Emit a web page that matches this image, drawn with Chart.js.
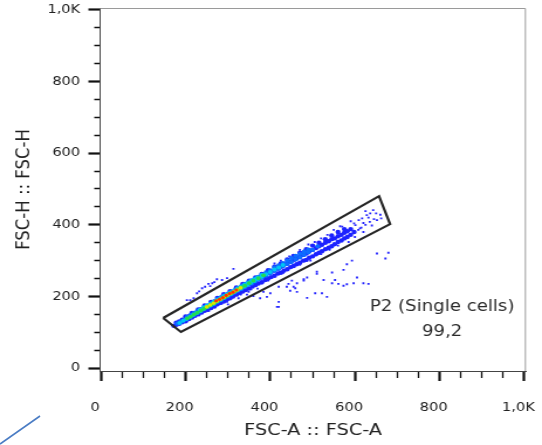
<!DOCTYPE html>
<html>
<head>
<meta charset="utf-8">
<script src="https://cdn.jsdelivr.net/npm/chart.js@4.4.1/dist/chart.umd.min.js"></script>
<style>
  html, body { margin: 0; padding: 0; background: #fff; }
  body { width: 542px; height: 445px; position: relative; overflow: hidden; }
  /* the reference picture is stretched sideways, so the chart is too */
  #wrap { position: absolute; left: 0; top: 0; width: 463px; height: 445px;
          transform: scaleX(1.1706); transform-origin: 0 0; }
  #mark { position: absolute; left: 0; top: 0; }
</style>
</head>
<body>
<div id="wrap"><canvas id="fscChart"></canvas></div>
<svg id="mark" width="542" height="445"><line x1="0" y1="444" x2="40" y2="416" stroke="#4a7cc4" stroke-width="1.6"/></svg>
<script>
// FSC-A vs FSC-H singlet gate, pseudocolor dots

const tickValues = [0, 50, 100, 150, 200, 250, 300, 350, 400, 450, 500, 550, 600, 650, 700, 750, 800, 850, 900, 950, 1000];
const majorTicks = [0, 200, 400, 600, 800, 1000];
const tickLabels = ["0", "200", "400", "600", "800", "1,0K"];

// gate polygon (FSC-A, FSC-H)
const gateX = [147, 189, 683, 657, 147];
const gateY = [140, 101, 402, 480, 140];
const gateText = ["P2 (Single cells)", "99,2"];
const gateTextX = [806, 806];
const gateTextY = [171, 101];

// sparse events
const scatterPts = [
  [581,290],[593,300],[573,274],[546,267],[510,263],[487,253],[479,244],[526,246],[553,246],[581,234],
  [620,237],[605,253],[451,244],[443,235],[420,227],[455,227],[487,196],[506,209],[522,209],[463,213],
  [420,171],[400,209],[384,213],[376,195],[360,201],[431,266],[652,320],[672,306],[679,322],[534,199],
  [546,237],[561,235],[573,230],[597,237],[632,235],[510,269],[479,248],[463,237],[447,216],[459,223],
  [439,227],[313,277],[274,248],[254,235],[239,223],[219,195],[211,190],[298,251],[286,246],[203,190],
  [227,209],[246,227],[263,237],[232,214],[258,229],[268,240],[239,162],[266,171],[298,185],[325,195],
  [349,213],[392,199],[416,171],[420,185],[300,178],[345,205],[370,222],[230,150],[255,160],[643,441],
  [636,432],[628,427],[617,418],[652,413],[609,413],[601,399],[590,410],[620,405],[660,428],[570,395],
  [585,370],[612,390],[410,292],[425,300],[445,312],[470,330],[490,345],[505,352],[520,362],[535,372],
  [550,386],[565,396],[470,288],[495,300],[520,318],[540,330],[560,342],[585,352],[600,366],[620,380],
  [640,398],[662,418],[625,438],[380,236],[395,244],[355,220],[330,205],[615,392],[625,400],[635,408],
  [645,416],[608,386],[598,404],[632,420],[650,432]
];
// dense band, by density level
const bluePts = [
  [172,118],[178,121],[178,127],[185,124],[185,130],[192,128],[192,135],[200,131],[200,138],[200,144],
  [208,137],[208,145],[215,141],[215,148],[215,154],[222,146],[222,154],[230,150],[230,158],[230,164],
  [238,155],[238,164],[245,160],[245,168],[245,175],[252,163],[252,173],[260,168],[260,178],[260,185],
  [268,172],[268,184],[275,178],[275,189],[275,196],[283,182],[283,195],[290,186],[290,198],[290,206],
  [298,192],[298,204],[305,195],[305,208],[305,215],[312,200],[312,212],[320,205],[320,218],[320,225],
  [328,210],[328,222],[335,214],[335,228],[335,235],[342,218],[342,232],[350,222],[350,236],[350,244],
  [358,228],[358,240],[365,232],[365,246],[365,253],[372,236],[372,250],[380,240],[380,255],[380,263],
  [388,246],[388,258],[395,250],[395,265],[395,273],[402,254],[402,268],[410,258],[410,274],[410,283],
  [418,264],[418,278],[425,266],[425,283],[425,292],[432,272],[432,288],[440,276],[440,294],[440,303],
  [448,282],[448,297],[455,285],[455,302],[455,313],[462,290],[462,306],[470,294],[470,312],[470,322],
  [478,300],[478,316],[485,302],[485,320],[485,332],[492,308],[492,326],[500,312],[500,330],[500,342],
  [508,318],[508,335],[515,322],[515,340],[515,350],[522,326],[522,344],[530,332],[530,350],[530,360],
  [538,336],[538,354],[545,340],[545,360],[545,370],[552,346],[552,362],[560,352],[560,368],[560,380],
  [568,356],[568,372],[575,362],[575,378],[575,388],[582,366],[582,382],[590,372],[590,388],[598,380]
];
const azurePts = [
  [180,124],[188,129],[196,134],[204,139],[204,143],[212,144],[212,149],[220,150],[220,154],[228,154],
  [228,160],[236,159],[236,165],[244,165],[244,170],[252,170],[252,175],[260,175],[260,181],[268,180],
  [268,187],[276,185],[276,193],[284,190],[284,198],[292,196],[292,203],[300,200],[300,208],[308,206],
  [308,213],[316,211],[316,218],[324,216],[324,223],[332,221],[332,229],[340,226],[340,235],[348,232],
  [348,239],[356,236],[356,245],[364,242],[364,250],[372,247],[372,255],[380,252],[380,261],[390,258],
  [390,267],[400,264],[400,273],[410,271],[410,281],[420,277],[420,287],[430,284],[430,293],[440,290],
  [440,300],[450,296],[450,307],[460,303],[460,313],[470,309],[470,319],[480,316],[480,325],[490,323],
  [490,331],[500,330],[512,340]
];
const cyanPts = [
  [186,126],[194,132],[202,137],[210,143],[218,148],[226,154],[234,159],[234,163],[242,165],[242,169],
  [250,170],[250,174],[258,175],[258,179],[266,180],[266,185],[274,186],[274,190],[282,191],[282,195],
  [290,196],[290,201],[298,202],[298,206],[306,207],[306,211],[314,212],[314,216],[322,217],[322,222],
  [330,222],[330,227],[338,228],[338,232],[346,233],[346,237],[354,238],[354,243],[362,243],[362,248],
  [370,249],[370,253],[380,255],[380,260],[390,262],[400,268],[410,275],[420,281],[430,288]
];
const greenPts = [
  [204,139],[212,144],[220,150],[228,155],[236,161],[244,166],[252,171],[260,177],[268,182],[276,188],
  [284,193],[292,198],[300,204],[308,209],[316,214],[324,220],[332,225],[340,230],[350,237],[360,244],
  [372,251],[384,259]
];
const yellowPts = [
  [250,171],[258,176],[266,181],[274,187],[282,192],[290,197],[298,203],[306,208],[314,213],[322,218],[330,224]
];
const redPts = [
  [272,188],[280,192],[288,197],[296,203],[304,208],[312,212],[320,218]
];

const toXY = pts => pts.map(p => ({ x: p[0], y: p[1] }));
const isMajor = v => majorTicks.indexOf(v) >= 0;
const labelFor = v => { const i = majorTicks.indexOf(v); return i >= 0 ? tickLabels[i] : ""; };

function dots(pts, color, r, style) {
  return { data: toXY(pts), backgroundColor: color, borderWidth: 0, pointStyle: style || "circle", pointRadius: r, showLine: false };
}

const frameAndText = {
  id: "frameAndText",
  beforeDatasetsDraw(chart) {
    const { ctx, chartArea: a } = chart;
    ctx.save();
    ctx.strokeStyle = "#9a9a9a";
    ctx.lineWidth = 1;
    ctx.beginPath();
    ctx.moveTo(a.left, a.top + 0.5);
    ctx.lineTo(a.right - 0.5, a.top + 0.5);
    ctx.lineTo(a.right - 0.5, a.bottom);
    ctx.stroke();
    ctx.restore();
  },
  afterDatasetsDraw(chart) {
    const { ctx, scales } = chart;
    ctx.save();
    ctx.fillStyle = "#2a2a2a";
    ctx.font = "15.5px 'DejaVu Sans'";
    ctx.textAlign = "center";
    ctx.textBaseline = "middle";
    gateText.forEach((t, i) => {
      ctx.fillText(t, scales.x.getPixelForValue(gateTextX[i]), scales.y.getPixelForValue(gateTextY[i]));
    });
    ctx.restore();
  }
};

const tickFont = { family: "DejaVu Sans", size: 12.5 };
const titleFont = { family: "DejaVu Sans", size: 16.5 };

// left axis ticks are stroked from the outer end, bottom ticks from the axis
function axisGrid(minorDash) {
  return {
    drawOnChartArea: false,
    tickLength: 10,
    tickColor: "#111",
    tickWidth: c => (isMajor(c.tick.value) ? 2.2 : 1.3),
    tickBorderDash: c => (isMajor(c.tick.value) ? [] : minorDash)
  };
}

new Chart(document.getElementById("fscChart"), {
  type: "scatter",
  data: {
    datasets: [
      { data: gateX.map((x, i) => ({ x: x, y: gateY[i] })), showLine: true, borderColor: "#262626",
        borderWidth: 2.2, pointRadius: 0, fill: false, tension: 0 },
      dots(redPts, "#ff3000", 1.6),
      dots(yellowPts, "#dde600", 1.8),
      dots(greenPts, "#22dd50", 1.9),
      dots(cyanPts, "#00c8f2", 2.0),
      dots(azurePts, "#0d6cff", 2.1),
      dots(bluePts, "#1c22ff", 2.2),
      dots(scatterPts, "#2222ff", 1.3, "rect")
    ]
  },
  options: {
    responsive: true,
    maintainAspectRatio: false,
    animation: false,
    layout: { padding: { top: 8, right: 13.7, left: 0, bottom: 0 } },
    plugins: {
      legend: { display: false },
      tooltip: { enabled: false }
    },
    scales: {
      x: {
        type: "linear",
        min: -2,
        max: 1004,
        afterBuildTicks: s => { s.ticks = tickValues.map(v => ({ value: v })); },
        afterFit: s => { s.height = 74; s.paddingLeft = 0; s.paddingRight = 0; },
        ticks: { autoSkip: false, maxRotation: 0, padding: 19, labelOffset: -5, color: "#222", font: tickFont, callback: v => labelFor(v) },
        grid: axisGrid([6, 30]),
        border: { color: "#444", width: 1 },
        title: { display: true, text: "FSC-A :: FSC-A", color: "#222", font: titleFont, padding: { top: 0, bottom: 4 } }
      },
      y: {
        type: "linear",
        min: -8,
        max: 1005,
        afterBuildTicks: s => { s.ticks = tickValues.map(v => ({ value: v })); },
        afterFit: s => { s.width = 85.5; s.paddingTop = 0; s.paddingBottom = 0; },
        ticks: { autoSkip: false, padding: 7, color: "#222", font: tickFont, callback: v => labelFor(v) },
        grid: axisGrid([0, 5, 5, 10]),
        border: { color: "#444", width: 1 },
        title: { display: true, text: "FSC-H :: FSC-H", color: "#222", font: titleFont, padding: { top: 11, bottom: 0 } }
      }
    }
  },
  plugins: [frameAndText]
});
</script>
</body>
</html>
